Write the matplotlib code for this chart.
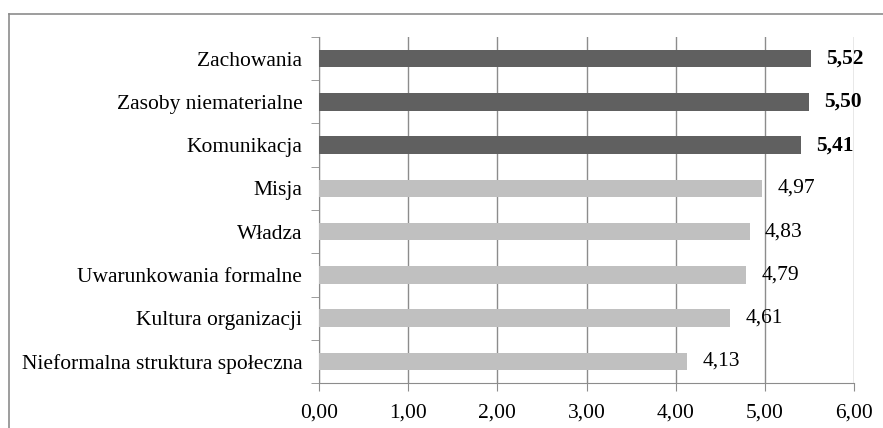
import matplotlib.pyplot as plt
from matplotlib.lines import Line2D

plt.rcParams['font.family'] = ['Liberation Serif', 'DejaVu Serif']

categories = ['Zachowania', 'Zasoby niematerialne', 'Komunikacja', 'Misja',
              'Władza', 'Uwarunkowania formalne', 'Kultura organizacji',
              'Nieformalna struktura społeczna']
values = [5.52, 5.50, 5.41, 4.97, 4.83, 4.79, 4.61, 4.13]
top_group = [True, True, True, False, False, False, False, False]
xticks = [0, 1, 2, 3, 4, 5, 6]

fig = plt.figure(figsize=(8.83, 4.28), dpi=100)
ax = fig.add_axes([319/883, 1-383/428, (854-319)/883, (383-37)/428])

# outer frame (only left and top edges visible in the original)
fig.add_artist(Line2D([9/883, 9/883], [0, 1-14/428], transform=fig.transFigure,
                      color='#8c8c8c', lw=1.2))
fig.add_artist(Line2D([9/883, 1], [1-14/428, 1-14/428], transform=fig.transFigure,
                      color='#8c8c8c', lw=1.2))

ypos = list(range(len(categories)))
colors = ['#606060' if t else '#c0c0c0' for t in top_group]
ax.barh(ypos, values, height=0.41, color=colors, zorder=3)

fs = 15.5
for y, v, t in zip(ypos, values, top_group):
    ax.text(v + 0.17, y, f'{v:.2f}'.replace('.', ','), va='center', ha='left',
            fontsize=fs, fontweight='bold' if t else 'normal', color='black',
            zorder=4)

ax.set_xlim(0, 6)
ax.set_ylim(len(categories) - 0.5, -0.5)
ax.set_xticks(xticks)
ax.set_xticklabels([f'{x:.2f}'.replace('.', ',') for x in xticks], fontsize=fs)
ax.set_yticks(ypos)
ax.set_yticklabels(categories, fontsize=fs)
ax.set_yticks([k + 0.5 for k in range(-1, len(categories))], minor=True)
ax.tick_params(axis='y', which='major', length=0, pad=12)
ax.tick_params(axis='y', which='minor', length=6, color='#8c8c8c', direction='out')
ax.tick_params(axis='x', length=6, color='#8c8c8c', direction='out', pad=9)
ax.grid(axis='x', color='#8c8c8c', lw=1, zorder=0)
ax.set_axisbelow(True)
for s in ['top', 'right']:
    ax.spines[s].set_visible(False)
for s in ['left', 'bottom']:
    ax.spines[s].set_color('#8c8c8c')

fig.savefig('out.png', dpi=100)
